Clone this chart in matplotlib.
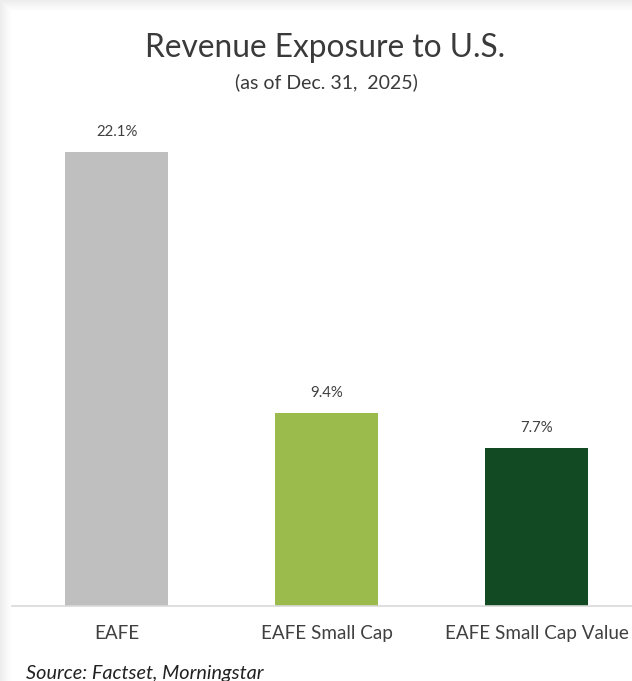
"""Revenue exposure to U.S. bar chart (as of Dec. 31, 2025)."""

import matplotlib

matplotlib.use("Agg")
import matplotlib.pyplot as plt
from matplotlib.patches import Rectangle

categories = ["EAFE", "EAFE Small Cap", "EAFE Small Cap Value"]
values = [22.1, 9.4, 7.7]
bar_colors = ["#bfbfbf", "#9bbb4d", "#124b23"]
value_labels = ["22.1%", "9.4%", "7.7%"]

W, H = 632, 681
TEXT = "#404040"
plt.rcParams["font.family"] = ["Lato", "DejaVu Sans"]

fig = plt.figure(figsize=(W / 100, H / 100), dpi=100, facecolor="white")

# soft shadow along the top and left edge of the card
for i in range(11):
    g = 0.93 + 0.07 * i / 11
    fig.patches.append(Rectangle((i / W, 0), 1 / W, 1 - i / H, transform=fig.transFigure,
                                 facecolor=(g, g, g), edgecolor="none", zorder=-5))
    fig.patches.append(Rectangle((i / W, 1 - (i + 1) / H), 1 - i / W, 1 / H,
                                 transform=fig.transFigure, facecolor=(g, g, g),
                                 edgecolor="none", zorder=-5))

# axes placed in pixel terms: baseline at y=606, top at y=100
ax = fig.add_axes([12 / W, (H - 606) / H, 620 / W, 506 / H])
x = list(range(len(categories)))
ax.bar(x, values, width=0.49, color=bar_colors, zorder=2)
ax.set_xlim(-0.498, 2.455)
ax.set_ylim(0, 24.63)

for xi, v, lab in zip(x, values, value_labels):
    ax.annotate(lab, (xi, v), xytext=(0, 9), textcoords="offset points",
                ha="center", va="bottom", fontsize=10.8, color=TEXT)

ax.set_xticks(x)
ax.set_xticklabels(categories, fontsize=13.6, color=TEXT)
ax.tick_params(axis="x", length=0, pad=14)
ax.set_yticks([])
for side in ("top", "right", "left"):
    ax.spines[side].set_visible(False)
ax.spines["bottom"].set_color("#d9d9d9")
ax.spines["bottom"].set_linewidth(1.2)
ax.patch.set_alpha(0)

fig.text(325 / W, 1 - 48 / H, "Revenue Exposure to U.S.", ha="center", va="center",
         fontsize=22.8, color="#3a3a3a")
fig.text(326 / W, 1 - 82 / H, "(as of Dec. 31,  2025)", ha="center", va="center",
         fontsize=14, color="#3a3a3a")
fig.text(26 / W, 1 - 673 / H, "Source: Factset, Morningstar", ha="left", va="center",
         fontsize=14.3, style="italic", color="#222222")

fig.savefig("out.png", dpi=100, facecolor="white")
